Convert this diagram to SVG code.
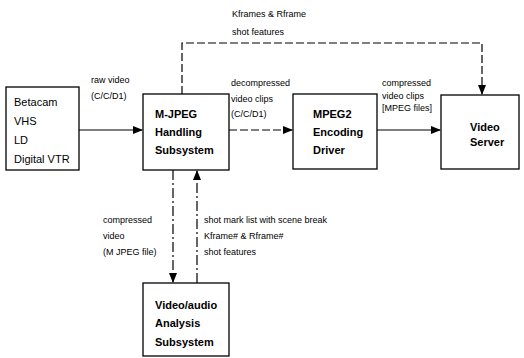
<svg xmlns="http://www.w3.org/2000/svg" width="524" height="358" viewBox="0 0 524 358">
<defs>
<marker id="ah" markerWidth="10" markerHeight="8" refX="9" refY="4" orient="auto" markerUnits="userSpaceOnUse">
<path d="M0,0 L10,4 L0,8 Z" fill="#000"/>
</marker>
<style>
.box{fill:#fff;stroke:#000;stroke-width:1.3}
.nt{font-family:"Liberation Sans",Arial,sans-serif;font-size:11px;fill:#000}
.b{font-weight:bold}
.lb{font-family:"Liberation Sans",Arial,sans-serif;font-size:9px;fill:#000}
.ln{fill:none;stroke:#000;stroke-width:1.2}
.dash{stroke-dasharray:8,3}
.dd{stroke-dasharray:10,3,2,3}
</style>
</defs>
<rect width="524" height="358" fill="#fff"/>
<g id="connectors">
<line class="ln" x1="79" y1="130" x2="142" y2="130" marker-end="url(#ah)"/>
<line class="ln dash" x1="229" y1="130" x2="292" y2="130" marker-end="url(#ah)"/>
<line class="ln" x1="377" y1="130" x2="440" y2="130" stroke="#444" marker-end="url(#ah)"/>
<polyline class="ln dash" points="182,94 182,43 482,43 482,94" marker-end="url(#ah)"/>
<line class="ln dd" x1="173" y1="170" x2="173" y2="282" marker-end="url(#ah)"/>
<line class="ln dd" x1="197" y1="283" x2="197" y2="171" marker-end="url(#ah)"/>
</g>
<g id="labels">
<text class="lb" x="232" y="17">Kframes &amp; Rframe</text>
<text class="lb" x="232" y="35">shot features</text>
<text class="lb" x="91" y="83">raw video</text>
<text class="lb" x="91" y="99">(C/C/D1)</text>
<text class="lb" x="231" y="86">decompressed</text>
<text class="lb" x="231" y="102">video clips</text>
<text class="lb" x="231" y="117">(C/C/D1)</text>
<text class="lb" x="382" y="86">compressed</text>
<text class="lb" x="382" y="99">video clips</text>
<text class="lb" x="382" y="111">[MPEG files]</text>
<text class="lb" x="103" y="223">compressed</text>
<text class="lb" x="103" y="239">video</text>
<text class="lb" x="103" y="255">(M JPEG file)</text>
<text class="lb" x="204" y="223">shot mark list with scene break</text>
<text class="lb" x="204" y="239">Kframe# &amp; Rframe#</text>
<text class="lb" x="204" y="255">shot features</text>
</g>
<g id="source">
<rect class="box" x="6" y="87" width="73" height="83"/>
<text class="nt" x="14" y="106">Betacam</text>
<text class="nt" x="14" y="125">VHS</text>
<text class="nt" x="14" y="144">LD</text>
<text class="nt" x="14" y="163">Digital VTR</text>
</g>
<g id="mjpeg">
<rect class="box" x="143" y="94" width="86" height="76"/>
<text class="nt b" x="155" y="118">M-JPEG</text>
<text class="nt b" x="155" y="136">Handling</text>
<text class="nt b" x="155" y="154">Subsystem</text>
</g>
<g id="mpeg2">
<rect class="box" x="293" y="94" width="84" height="75"/>
<text class="nt b" x="313" y="118">MPEG2</text>
<text class="nt b" x="313" y="136">Encoding</text>
<text class="nt b" x="313" y="154">Driver</text>
</g>
<g id="server">
<rect class="box" x="441" y="95" width="78" height="74"/>
<text class="nt b" x="470" y="131">Video</text>
<text class="nt b" x="470" y="146">Server</text>
</g>
<g id="analysis">
<rect class="box" x="143" y="283" width="86" height="73"/>
<text class="nt b" x="155" y="309">Video/audio</text>
<text class="nt b" x="155" y="327">Analysis</text>
<text class="nt b" x="155" y="346">Subsystem</text>
</g>
</svg>
